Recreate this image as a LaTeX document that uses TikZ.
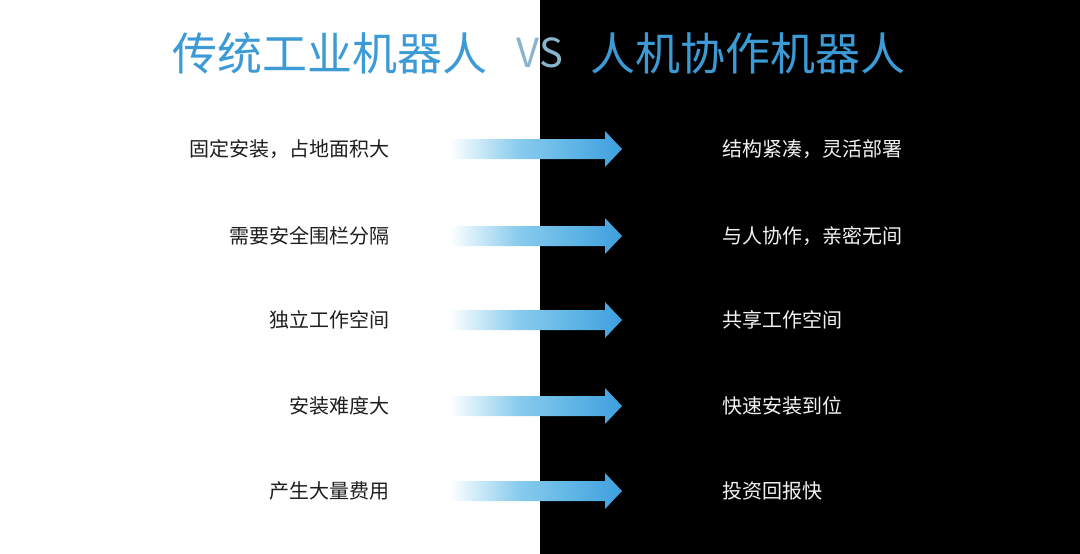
\documentclass[tikz,border=0pt]{standalone}
\usepackage{fontspec}
\newfontfamily\cjk{Noto Sans CJK SC}
\usetikzlibrary{calc}
\definecolor{titleblue}{HTML}{3C9BD6}
\definecolor{vscol}{HTML}{8AB4CC}
\definecolor{lefttext}{HTML}{1E1E1E}
\definecolor{righttext}{HTML}{F2F2F2}
\definecolor{arrfaint}{HTML}{CDEAF8}
\definecolor{arrlight}{HTML}{8ACBEE}
\definecolor{arrmid}{HTML}{62B7E6}
\definecolor{arrblue}{HTML}{3E9FDD}
\pgfdeclarehorizontalshading{arrowshade}{100bp}{color(0bp)=(white); color(25bp)=(white); color(27bp)=(white); color(35bp)=(arrfaint); color(46bp)=(arrlight); color(60bp)=(arrmid); color(75bp)=(arrblue); color(100bp)=(arrblue)}
\tikzset{
  titletext/.style={font=\cjk\fontsize{45}{52}\selectfont, text=titleblue, inner sep=0pt},
  vstext/.style={font=\cjk\fontsize{40}{46}\selectfont, text=vscol, inner sep=0pt},
  lefttxt/.style={font=\cjk\fontsize{20}{24}\selectfont, text=lefttext, anchor=east, inner sep=0pt},
  righttxt/.style={font=\cjk\fontsize{20}{24}\selectfont, text=righttext, anchor=west, inner sep=0pt},
  bigarrow/.style={shading=arrowshade}
}
\begin{document}
\begin{tikzpicture}[x=1pt,y=-1pt]
\useasboundingbox (0,0) rectangle (1080,554);
\fill[white] (0,0) rectangle (540,554);
\fill[black] (540,0) rectangle (1080,554);

\node[titletext, anchor=west] (tl) at (172,53) {传统工业机器人};
\node[vstext] (vs) at (540,53) {VS};
\node[titletext, anchor=west] (tr) at (590,53) {人机协作机器人};

\foreach \i/\y/\l/\r in {1/149/固定安装，占地面积大/结构紧凑，灵活部署,
                         2/236/需要安全围栏分隔/与人协作，亲密无间,
                         3/320/独立工作空间/共享工作空间,
                         4/406/安装难度大/快速安装到位,
                         5/491/产生大量费用/投资回报快}{
  \node[lefttxt] (l\i) at (390,\y) {\l};
  \node[righttxt] (r\i) at (722,\y) {\r};
  \coordinate (s\i) at (442,\y);
  \coordinate (e\i) at (622,\y);
  \shade[bigarrow] ($(s\i)+(0,-10)$) -- ($(e\i)+(-17,-10)$) -- ($(e\i)+(-17,-18)$) -- (e\i)
     -- ($(e\i)+(-17,18)$) -- ($(e\i)+(-17,10)$) -- ($(s\i)+(0,10)$) -- cycle;
}
\end{tikzpicture}
\end{document}
